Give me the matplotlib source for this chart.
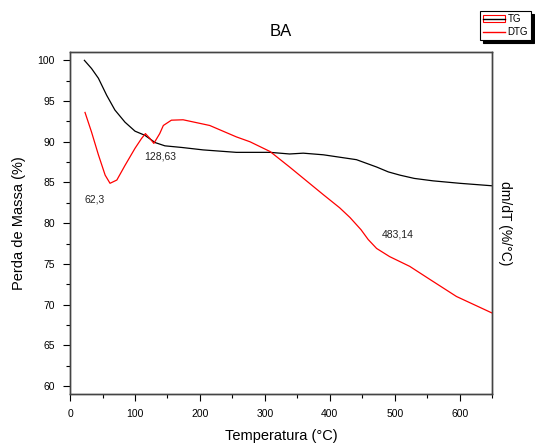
import matplotlib
matplotlib.use("Agg")
import matplotlib.pyplot as plt
from matplotlib.lines import Line2D
from matplotlib.patches import Rectangle
from matplotlib.ticker import MultipleLocator

plt.rcParams['font.family'] = ['Liberation Sans', 'DejaVu Sans']

# TG curve (mass loss, %)
tg_t = [22, 33, 43.6, 56.4, 69, 84.6, 100, 115, 131, 146, 172, 205, 256, 308,
        338, 359, 390, 441, 472, 490, 508, 530, 559, 600, 649]
tg_m = [100.0, 99.0, 97.8, 95.7, 93.9, 92.4, 91.3, 90.8, 89.9, 89.5, 89.3, 89.0, 88.7, 88.7,
        88.5, 88.6, 88.4, 87.8, 86.9, 86.3, 85.9, 85.5, 85.2, 84.9, 84.6]

# DTG curve (drawn in the same visual space, right axis has no ticks)
dtg_t = [23, 33, 43.6, 54, 61.5, 72, 84.6, 100, 110, 116, 123, 129, 138, 143.6, 156, 174,
         215, 256, 277, 308, 338, 390, 415, 431, 448, 459, 472, 492, 523, 554, 595, 649]
dtg_v = [93.6, 91.2, 88.4, 85.9, 84.9, 85.3, 87.1, 89.2, 90.4, 91.0, 90.4, 89.8, 91.0, 92.0, 92.65, 92.7,
         92.0, 90.6, 90.0, 88.8, 86.9, 83.5, 81.9, 80.7, 79.2, 78.0, 76.9, 75.9, 74.7, 73.1, 71.0, 69.0]

peak_labels = ["62,3", "128,63", "483,14"]
peak_pos = [(38, 82.9), (138, 88.25), (505, 78.6)]

fig = plt.figure(figsize=(5.35, 4.46), dpi=100)
ax = fig.add_axes([0.131, 0.117, 0.789, 0.766])
ax2 = ax.twinx()

ax.plot(tg_t, tg_m, color='black', lw=0.9)
ax2.plot(dtg_t, dtg_v, color='red', lw=0.9)

for lab, (x, y) in zip(peak_labels, peak_pos):
    ax.text(x, y, lab, fontsize=7.5, ha='center', va='center', color='#222222')

ax.set_xlim(0, 650)
ax.set_ylim(59.05, 101.0)
ax2.set_ylim(59.05, 101.0)
ax2.set_yticks([])

ax.xaxis.set_major_locator(MultipleLocator(100))
ax.xaxis.set_minor_locator(MultipleLocator(50))
ax.yaxis.set_major_locator(MultipleLocator(5))
ax.yaxis.set_minor_locator(MultipleLocator(2.5))
ax.tick_params(which='major', direction='out', length=5, width=0.8, labelsize=7.5, pad=6)
ax.tick_params(which='minor', direction='out', length=3, width=0.8)
for a in (ax, ax2):
    for s in a.spines.values():
        s.set_color('#444444')
        s.set_linewidth(1.0)

ax.set_xlabel("Temperatura (°C)", fontsize=10.5, labelpad=7)
ax.set_ylabel("Perda de Massa (%)", fontsize=10.5, labelpad=8)
ax2.set_ylabel("dm/dT (%/°C)", fontsize=10, rotation=-90, labelpad=14)
ax.set_title("BA", fontsize=12, pad=12)

h_tg = (Rectangle((0, 0), 1, 1, facecolor='none', edgecolor='red', lw=0.8),
        Line2D([], [], color='black', lw=1))
h_dtg = Line2D([], [], color='red', lw=1)
leg = fig.legend([h_tg, h_dtg], ["TG", "DTG"], loc='upper right',
                 bbox_to_anchor=(531 / 535, 1 - 11 / 446), fontsize=7,
                 frameon=True, shadow={'color': 'black', 'alpha': 1.0},
                 fancybox=False, handlelength=2.2,
                 borderpad=0.3, labelspacing=0.35, handletextpad=0.3,
                 borderaxespad=0)
leg.get_frame().set_edgecolor('black')
leg.get_frame().set_linewidth(0.8)

fig.savefig("out.png", dpi=100)
